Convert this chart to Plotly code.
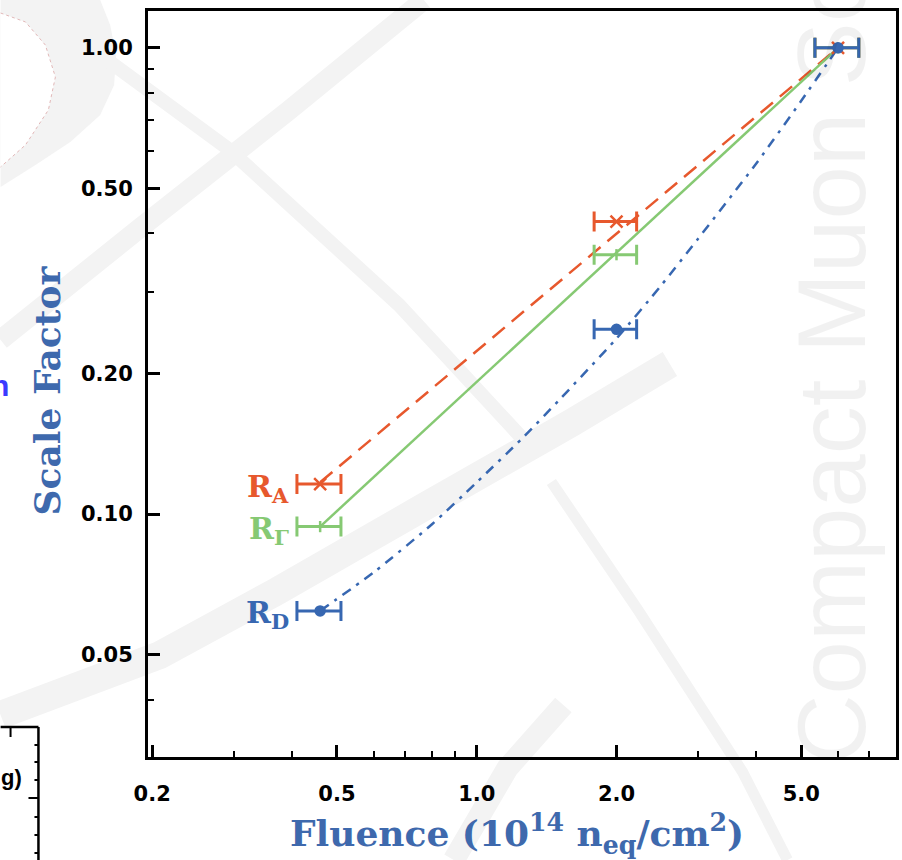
import numpy as np
import plotly.graph_objects as go

# ---- measured scale factors vs. fluence (1e14 n_eq/cm^2) ----
fluence = [0.46, 2.0, 6.0]
fluence_err = [0.05, 0.21, 0.65]
r_a = [0.116, 0.424, 1.0]
r_gamma = [0.094, 0.360, 1.0]
r_d = [0.062, 0.249, 1.0]

# ---- fitted curves ----
fit_a_x = [0.46, 6.0]
fit_a_y = [0.117, 1.0]
fit_g_x = [0.46, 6.0]
fit_g_y = [0.094, 1.0]
fit_d_x = [0.46, 0.6, 0.8, 1.0, 1.25, 1.5, 2.0, 2.5, 3.0, 4.0, 5.0, 6.0]
fit_d_y = [0.062, 0.075, 0.095, 0.117, 0.145, 0.175, 0.238, 0.31, 0.39, 0.565, 0.77, 1.0]

# ---- axis ticks ----
x_ticks = [0.2, 0.5, 1.0, 2.0, 5.0]
x_tick_text = ["0.2", "0.5", "1.0", "2.0", "5.0"]
x_minor = [0.3, 0.4, 0.6, 0.7, 0.8, 0.9, 3, 4, 6, 7]
y_ticks = [0.05, 0.1, 0.2, 0.5, 1.0]
y_tick_text = ["0.05", "0.10", "0.20", "0.50", "1.00"]
y_minor = [0.9, 0.8, 0.7, 0.6, 0.4, 0.3, 0.04, 0.03]

ORANGE = "#e7582d"
GREEN = "#86c973"
BLUE = "#3767b1"
TITLE_BLUE = "#3e69ad"
WM = "#f3f3f3"

W, H = 902, 860
L, R, T, B = 148, 3, 11, 103
PW, PH = W - L - R, H - T - B


def px(xp):
    return (xp - L) / PW


def py(yp):
    return (H - B - yp) / PH


fig = go.Figure()

# fitted curves
fig.add_trace(go.Scatter(x=fit_a_x, y=fit_a_y, mode="lines",
                         line=dict(color=ORANGE, width=2.5, dash="16px,9px"),
                         hoverinfo="skip", showlegend=False))
fig.add_trace(go.Scatter(x=fit_g_x, y=fit_g_y, mode="lines",
                         line=dict(color=GREEN, width=2.5),
                         hoverinfo="skip", showlegend=False))
fig.add_trace(go.Scatter(x=fit_d_x, y=fit_d_y, mode="lines",
                         line=dict(color=BLUE, width=2.5, dash="10px,7px,3px,7px",
                                   shape="spline", smoothing=0.6),
                         hoverinfo="skip", showlegend=False))

# data points with fluence uncertainties
for vals, col, sym, size in [
    (r_a, ORANGE, "x-thin-open", 12),
    (r_gamma, GREEN, "line-ns-open", 8),
    (r_d, BLUE, "circle", 9),
]:
    fig.add_trace(go.Scatter(
        x=fluence, y=vals, mode="markers",
        marker=dict(symbol=sym, size=size, color=col, line=dict(color=col, width=2.5)),
        error_x=dict(type="data", array=fluence_err, color=col, thickness=3, width=10),
        showlegend=False))

# series labels next to the low-fluence points
labels = [("R<sub>A</sub>", r_a[0], ORANGE),
          ("R<sub>Γ</sub>", r_gamma[0], GREEN),
          ("R<sub>D</sub>", r_d[0], BLUE)]
for txt, yv, col in labels:
    fig.add_annotation(x=np.log10(fluence[0] - fluence_err[0]), y=np.log10(yv),
                       xref="x", yref="y", text=txt, showarrow=False,
                       xanchor="right", yanchor="middle", xshift=-6, yshift=-4,
                       font=dict(family="DejaVu Serif", size=30, color=col, weight="bold"))

# axis titles
fig.add_annotation(x=px(47), y=py(390), xref="paper", yref="paper",
                   text="Scale Factor", textangle=-90, showarrow=False,
                   xanchor="center", yanchor="middle",
                   font=dict(family="DejaVu Serif", size=36, color=TITLE_BLUE, weight="bold"))
fig.add_annotation(x=px(518), y=py(833), xref="paper", yref="paper",
                   text="Fluence (10<sup>14</sup> n<sub>eq</sub>/cm<sup>2</sup>)",
                   showarrow=False, xanchor="center", yanchor="middle",
                   font=dict(family="DejaVu Serif", size=36, color=TITLE_BLUE, weight="bold"))

# background logo watermark
fig.add_annotation(x=px(834), y=py(766), xref="paper", yref="paper",
                   text="Compact Muon Solenoid", textangle=-90, showarrow=False,
                   xanchor="center", yanchor="bottom",
                   font=dict(family="Liberation Sans Narrow, Liberation Sans", size=96,
                             color="rgba(0,0,0,0.055)"))


def poly(points, closed=True):
    s = "M " + " L ".join(f"{px(a):.4f},{py(b):.4f}" for a, b in points)
    return s + (" Z" if closed else "")


shapes = []
outer = [(0, 0), (100, 0), (110, 25), (116, 55), (114, 85), (100, 115), (70, 142),
         (35, 165), (0, 187)]
inner = [(0, 13), (25, 22), (45, 45), (55, 77), (48, 110), (25, 145), (0, 167)]
shapes.append(dict(type="path", xref="paper", yref="paper", path=poly(outer),
                   fillcolor=WM, line=dict(width=0), layer="below"))
shapes.append(dict(type="path", xref="paper", yref="paper", path=poly(inner),
                   fillcolor="white", line=dict(width=0), layer="below"))
shapes.append(dict(type="path", xref="paper", yref="paper", path=poly(inner, False),
                   line=dict(color="#e2b8b8", width=1, dash="dot"), layer="below"))
bands = [
    ([(0, 340), (140, 228), (290, 110), (425, 0)], 20),
    ([(110, 62), (230, 150), (400, 305), (530, 445)], 14),
    ([(0, 715), (160, 655), (278, 591), (425, 507), (573, 423), (672, 364)], 28),
    ([(553, 482), (640, 610), (745, 772), (790, 860)], 11),
    ([(455, 860), (509, 768), (565, 705)], 22),
]
for pts, w in bands:
    shapes.append(dict(type="path", xref="paper", yref="paper", path=poly(pts, False),
                       line=dict(color=WM, width=w), layer="below"))

# neighbouring panel fragments at the left edge
shapes.append(dict(type="line", xref="paper", yref="paper", x0=px(0), x1=px(38),
                   y0=py(727), y1=py(727), line=dict(color="black", width=2.5)))
shapes.append(dict(type="line", xref="paper", yref="paper", x0=px(38), x1=px(38),
                   y0=py(727), y1=py(862), line=dict(color="black", width=2.5)))
shapes.append(dict(type="line", xref="paper", yref="paper", x0=px(10), x1=px(10),
                   y0=py(727), y1=py(737), line=dict(color="black", width=2)))
for yt, ln in [(745, 4), (762, 4), (780, 4), (798, 10), (817, 4), (835, 4), (853, 4)]:
    shapes.append(dict(type="line", xref="paper", yref="paper", x0=px(38 - ln), x1=px(38),
                       y0=py(yt), y1=py(yt), line=dict(color="black", width=2)))
fig.add_annotation(x=px(24), y=py(777), xref="paper", yref="paper", text="g)",
                   showarrow=False, xanchor="right", yanchor="middle",
                   font=dict(family="Liberation Sans", size=22, color="black", weight="bold"))
fig.add_annotation(x=px(10), y=py(385), xref="paper", yref="paper", text="n",
                   showarrow=False, xanchor="right", yanchor="middle",
                   font=dict(family="Liberation Sans", size=30, color="#3a3aff", weight="bold"))

fig.update_layout(shapes=shapes)

tick_font = dict(family="DejaVu Sans", size=21, color="black", weight="bold")
fig.update_xaxes(type="log", range=[-0.708, 0.903],
                 tickmode="array", tickvals=x_ticks, ticktext=x_tick_text,
                 ticks="inside", ticklen=12, tickwidth=2.5, tickcolor="black",
                 minor=dict(tickmode="array", tickvals=x_minor, ticks="inside",
                            ticklen=6, tickwidth=2, tickcolor="black"),
                 showline=True, linewidth=3, linecolor="black", mirror=True,
                 showgrid=False, zeroline=False, tickfont=tick_font,
                 ticklabelstandoff=16)
fig.update_yaxes(type="log", range=[-1.521, 0.079],
                 tickmode="array", tickvals=y_ticks, ticktext=y_tick_text,
                 ticks="inside", ticklen=12, tickwidth=2.5, tickcolor="black",
                 minor=dict(tickmode="array", tickvals=y_minor, ticks="inside",
                            ticklen=6, tickwidth=2, tickcolor="black"),
                 showline=True, linewidth=3, linecolor="black", mirror=True,
                 showgrid=False, zeroline=False, tickfont=tick_font,
                 ticklabelstandoff=8)

fig.update_layout(width=W, height=H, margin=dict(l=L, r=R, t=T, b=B),
                  paper_bgcolor="white", plot_bgcolor="rgba(0,0,0,0)",
                  showlegend=False)

fig.write_html("out.html")
